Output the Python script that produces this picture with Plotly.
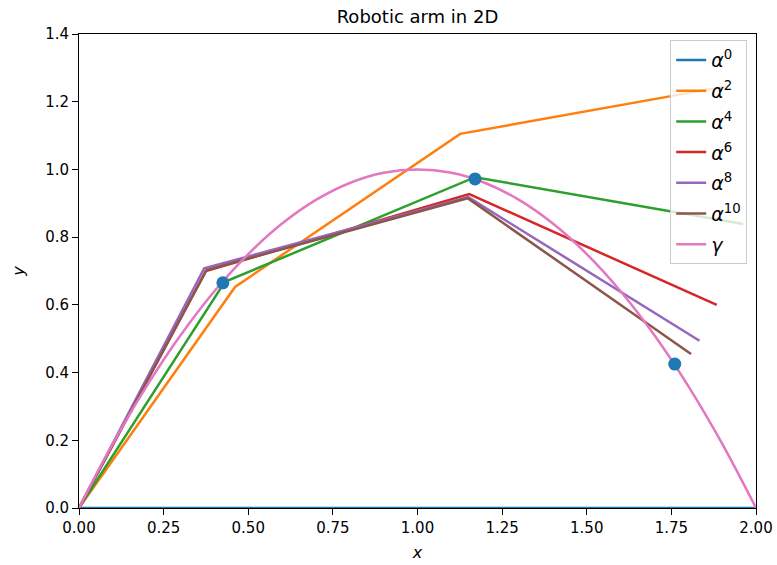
import plotly.graph_objects as go

# Arm configurations (joint positions)
alpha0_x = [0, 0.8, 1.6, 2.4]
alpha0_y = [0, 0, 0, 0]
alpha2_x = [0, 0.461, 1.126, 1.914]
alpha2_y = [0, 0.653, 1.105, 1.246]
alpha4_x = [0, 0.431, 1.170, 1.962]
alpha4_y = [0, 0.668, 0.977, 0.839]
alpha6_x = [0, 0.375, 1.153, 1.884]
alpha6_y = [0, 0.700, 0.927, 0.600]
alpha8_x = [0, 0.370, 1.150, 1.833]
alpha8_y = [0, 0.708, 0.918, 0.494]
alpha10_x = [0, 0.377, 1.148, 1.808]
alpha10_y = [0, 0.703, 0.915, 0.455]

# Target curve gamma
gamma_x = [0, 0.1, 0.2, 0.3, 0.4, 0.5, 0.6, 0.7, 0.8, 0.9, 1.0,
           1.1, 1.2, 1.3, 1.4, 1.5, 1.6, 1.7, 1.8, 1.9, 2.0]
gamma_y = [0, 0.19, 0.36, 0.51, 0.64, 0.75, 0.84, 0.91, 0.96, 0.99, 1.0,
           0.99, 0.96, 0.91, 0.84, 0.75, 0.64, 0.51, 0.36, 0.19, 0]

# Target points
pts_x = [0.425, 1.170, 1.760]
pts_y = [0.665, 0.972, 0.425]

x_ticks = [0, 0.25, 0.5, 0.75, 1.0, 1.25, 1.5, 1.75, 2.0]
y_ticks = [0, 0.2, 0.4, 0.6, 0.8, 1.0, 1.2, 1.4]

series = [
    ("<i>α</i><sup>0</sup>", alpha0_x, alpha0_y, "#1f77b4"),
    ("<i>α</i><sup>2</sup>", alpha2_x, alpha2_y, "#ff7f0e"),
    ("<i>α</i><sup>4</sup>", alpha4_x, alpha4_y, "#2ca02c"),
    ("<i>α</i><sup>6</sup>", alpha6_x, alpha6_y, "#d62728"),
    ("<i>α</i><sup>8</sup>", alpha8_x, alpha8_y, "#9467bd"),
    ("<i>α</i><sup>10</sup>", alpha10_x, alpha10_y, "#8c564b"),
    ("<i>γ</i>", gamma_x, gamma_y, "#e377c2"),
]

fig = go.Figure()
for i, (name, xs, ys, col) in enumerate(series):
    fig.add_trace(go.Scatter(
        x=xs, y=ys, mode="lines", name=name, legendgroup=f"g{i}",
        line=dict(color=col, width=2.5,
                  shape="spline" if name == "<i>γ</i>" else "linear"),
    ))
fig.add_trace(go.Scatter(
    x=pts_x, y=pts_y, mode="markers", showlegend=False,
    marker=dict(color="#1f77b4", size=13),
))

axis_common = dict(
    showline=True, linecolor="black", linewidth=1, mirror=True,
    ticks="outside", ticklen=6, tickwidth=1, tickcolor="black",
    showgrid=False, zeroline=False, automargin=False,
    tickfont=dict(family="DejaVu Sans", size=15, color="black"),
)

fig.update_layout(
    width=777, height=565,
    margin=dict(l=79, r=21, t=34, b=57),
    paper_bgcolor="white", plot_bgcolor="white",
    font=dict(family="DejaVu Sans", color="black"),
    title=dict(text="Robotic arm in 2D", x=(79 + 677 / 2) / 777, xanchor="center",
               y=1 - 17 / 565, yanchor="middle",
               font=dict(family="DejaVu Sans", size=18, color="black")),
    xaxis=dict(range=[0, 2], tickvals=x_ticks, tickformat=".2f",
               title=dict(text="<i>x</i>", standoff=10,
                          font=dict(family="DejaVu Sans", size=16)),
               **axis_common),
    yaxis=dict(range=[0, 1.4], tickvals=y_ticks, tickformat=".1f",
               title=dict(text="<i>y</i>", standoff=16,
                          font=dict(family="DejaVu Sans", size=16)),
               **axis_common),
    legend=dict(x=0.987, y=0.987, xanchor="right", yanchor="top",
                bgcolor="rgba(255,255,255,0.8)", bordercolor="#cccccc", borderwidth=1,
                font=dict(family="DejaVu Sans", size=19, color="black"),
                tracegroupgap=3),
)

fig.write_html("out.html")
